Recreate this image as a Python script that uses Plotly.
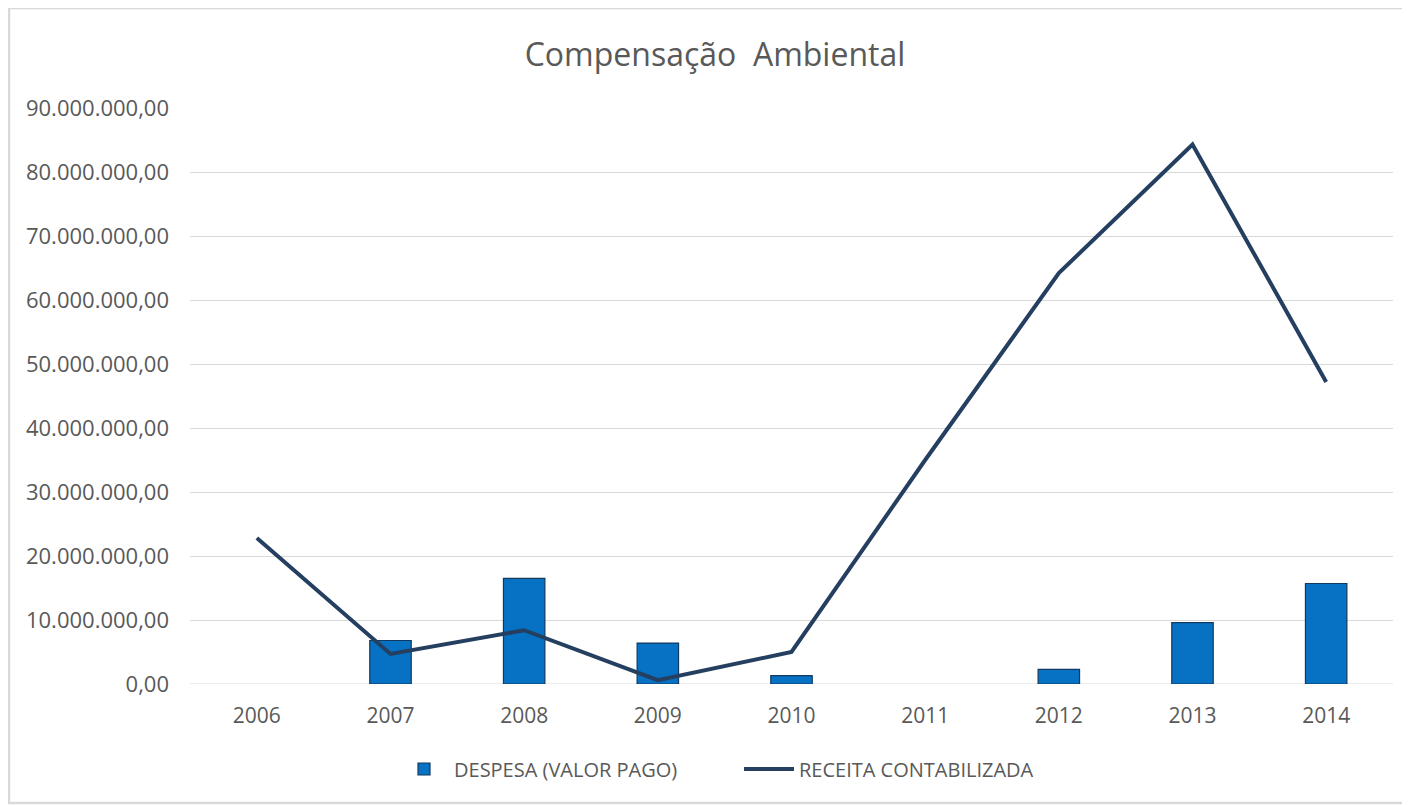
import plotly.graph_objects as go

anos = ["2006", "2007", "2008", "2009", "2010", "2011", "2012", "2013", "2014"]
despesa = [None, 6.8e6, 16.5e6, 6.4e6, 1.3e6, None, 2.3e6, 9.6e6, 15.7e6]
receita = [22.8e6, 4.7e6, 8.4e6, 0.6e6, 5.0e6, 35.0e6, 64.2e6, 84.3e6, 47.2e6]
y_ticks = [0, 10e6, 20e6, 30e6, 40e6, 50e6, 60e6, 70e6, 80e6, 90e6]


def fmt_br(v):
    # 90000000 -> "90.000.000,00"
    s = "{:,.2f}".format(v)
    return s.replace(",", "X").replace(".", ",").replace("X", ".")


cinza = "#595959"
fonte = "Open Sans, Liberation Sans, sans-serif"

# page has an 8px body margin, so the figure is placed at (8, 8)
L, R, T, B = 182, 1385, 100, 676
W, H = 1402, 797
pw, ph = R - L, B - T

fig = go.Figure()

fig.add_trace(go.Bar(
    x=anos, y=despesa, name="DESPESA (VALOR PAGO)",
    marker=dict(color="#0772c3", line=dict(color="#12395f", width=1.2)),
    width=0.31,
))

fig.add_trace(go.Scatter(
    x=anos, y=receita, name="RECEITA CONTABILIZADA",
    mode="lines", line=dict(color="#243f60", width=4),
))

fig.update_layout(
    width=W, height=H,
    margin=dict(l=L, r=W - R, t=T, b=H - B),
    paper_bgcolor="white", plot_bgcolor="white",
    font=dict(family=fonte, color=cinza, size=20),
    title=dict(
        text="Compensação  Ambiental",
        x=707 / W, xref="container", xanchor="center",
        y=1 - 47 / H, yref="container", yanchor="middle",
        font=dict(size=32, color=cinza, family=fonte),
    ),
    xaxis=dict(
        type="category", showgrid=False, showline=False, ticks="",
        ticklabelstandoff=17,
        tickfont=dict(size=21, color=cinza),
    ),
    yaxis=dict(
        range=[0, 90e6], tickvals=y_ticks,
        ticktext=[fmt_br(v) for v in y_ticks],
        showgrid=True, gridcolor="#d9d9d9", gridwidth=1,
        zeroline=False, showline=False, ticks="",
        ticklabelstandoff=20,
        tickfont=dict(size=22, color=cinza),
    ),
    legend=dict(
        orientation="h", x=(731 - L) / pw, xanchor="center",
        y=(B - 761) / ph, yanchor="middle",
        font=dict(size=20, color=cinza), itemwidth=50,
        entrywidth=280, entrywidthmode="pixels",
    ),
    shapes=[dict(
        type="rect", xref="paper", yref="paper",
        x0=(1 - L) / pw, x1=(1430 - L) / pw,
        y0=(B - 795) / ph, y1=(B - 0) / ph,
        line=dict(color="#d9d9d9", width=2.5), fillcolor="rgba(0,0,0,0)",
        layer="below",
    )],
)

fig.add_hline(y=0, line=dict(color="#d9d9d9", width=1), layer="below")

fig.write_html("out.html")
